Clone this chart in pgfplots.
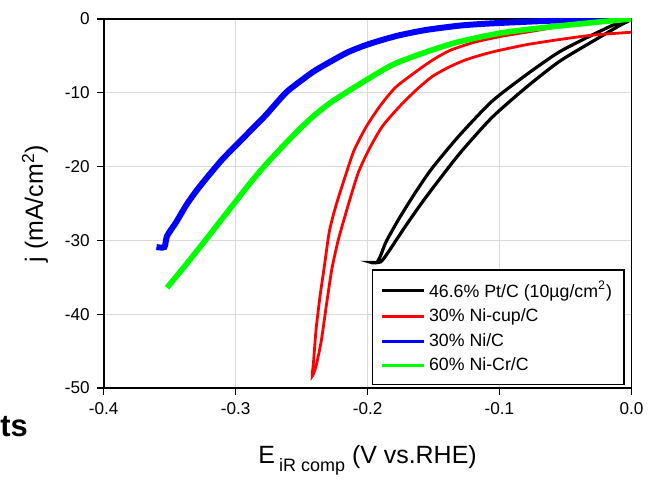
\documentclass[border=0pt]{standalone}
\usepackage{pgfplots}
\pgfplotsset{compat=1.18}
\usepackage{fontspec}
\setmainfont{Liberation Sans}
\begin{document}
\begin{tikzpicture}
\begin{axis}[
  scale only axis, width=264.5pt, height=185pt,
  xmin=-0.4, xmax=0, ymin=-50, ymax=0,
  xtick={-0.4,-0.3,-0.2,-0.1,0}, xticklabels={-0.4,-0.3,-0.2,-0.1,0.0},
  ytick={-50,-40,-30,-20,-10,0},
  /pgf/number format/assume math mode=true,
  grid=major, grid style={black!15, line width=0.6pt},
  tick align=outside, tick pos=left, major tick length=3.5pt,
  axis line style={line width=0.8pt},
  tick style={black, line width=0.6pt},
  ticklabel style={font=\fontsize{8.6}{10}\selectfont},
  xlabel={E\,\raisebox{-0.6ex}{\fontsize{9}{10}\selectfont iR comp} (V vs.RHE)},
  ylabel={j (mA/cm\textsuperscript{2})},
  label style={font=\fontsize{12.5}{14}\selectfont},
  xlabel style={at={(axis description cs:0.5,0)}, anchor=base, yshift=-38pt},
  ylabel style={at={(axis description cs:-0.1153,0.5)}, anchor=base},
  legend cell align=left,
  legend style={at={(rel axis cs:0.987,0.008)}, anchor=south east, draw=black, line width=0.6pt,
    font=\fontsize{8.9}{10}\selectfont, row sep=0.3pt, inner xsep=4pt, inner ysep=3.5pt},
  legend image code/.code={\draw[#1, line width=1.5pt] (0pt,0pt) -- (21pt,0pt);},
]
\addplot[black, line width=1.6pt, smooth, tension=0.4] coordinates {
(-0.003,-0.1) (-0.010,-0.5) (-0.030,-2.2) (-0.055,-4.5) (-0.080,-7.6) (-0.106,-11.2)
(-0.131,-15.9) (-0.151,-20.2) (-0.163,-23.3) (-0.176,-27.0) (-0.186,-30.2) (-0.190,-32.0) (-0.193,-33.0)
(-0.197,-33.0) (-0.190,-32.9) (-0.184,-31.5) (-0.171,-28.0) (-0.156,-24.2) (-0.131,-18.4)
(-0.106,-13.4) (-0.080,-9.3) (-0.055,-5.8) (-0.030,-3.1) (-0.008,-0.8) (-0.002,-0.3)
};
\addlegendentry{46.6\% Pt/C (10µg/cm\textsuperscript{2})}
\addplot[red, line width=1.4pt, smooth, tension=0.4] coordinates {
(0.000,-1.8) (-0.030,-2.2) (-0.055,-2.8) (-0.080,-3.5) (-0.106,-4.5) (-0.125,-5.5) (-0.138,-6.5)
(-0.151,-7.8) (-0.163,-9.6) (-0.176,-11.9) (-0.189,-14.6) (-0.199,-17.7) (-0.207,-20.8) (-0.214,-24.8)
(-0.222,-29.8) (-0.227,-33.8) (-0.231,-38.5) (-0.235,-43.5) (-0.239,-47.0) (-0.242,-48.4)
(-0.241,-46.5) (-0.239,-42.0) (-0.236,-37.5) (-0.233,-33.8) (-0.229,-28.8) (-0.224,-25.3)
(-0.216,-20.8) (-0.210,-17.7) (-0.201,-14.6) (-0.191,-11.9) (-0.179,-9.3) (-0.163,-7.1) (-0.151,-5.6)
(-0.138,-4.3) (-0.120,-3.2) (-0.100,-2.4) (-0.080,-1.8) (-0.042,-0.7) (-0.010,-0.2) (0.000,0.0)
};
\addlegendentry{30\% Ni-cup/C}
\addplot[blue, line width=3pt, smooth, tension=0.4] coordinates {
(-0.360,-30.9) (-0.354,-30.9) (-0.352,-29.4) (-0.345,-27.5) (-0.337,-25.1) (-0.329,-23.1) (-0.320,-21.1)
(-0.310,-19.0) (-0.299,-17.0) (-0.288,-15.0) (-0.277,-13.0) (-0.262,-10.0) (-0.250,-8.3) (-0.239,-6.9) (-0.216,-4.6) (-0.199,-3.4)
(-0.178,-2.3) (-0.156,-1.5) (-0.130,-0.9) (-0.106,-0.6) (-0.055,-0.2) (0.000,0.0)
};
\addlegendentry{30\% Ni/C}
\addplot[green, line width=2.8pt, smooth, tension=0.4] coordinates {
(-0.352,-36.4) (-0.340,-33.8) (-0.327,-30.9) (-0.313,-27.7) (-0.299,-24.5) (-0.288,-22.0) (-0.277,-19.7)
(-0.264,-17.2) (-0.252,-15.0) (-0.240,-13.0) (-0.227,-11.2) (-0.204,-8.6) (-0.181,-6.2) (-0.156,-4.5) (-0.131,-3.1)
(-0.099,-1.9) (-0.068,-1.2) (-0.030,-0.5) (0.000,0.0)
};
\addlegendentry{60\% Ni-Cr/C}
\end{axis}
\node[anchor=base west, font=\fontsize{15.5}{16}\selectfont\bfseries, inner sep=0pt]
  at ([xshift=-52pt, yshift=-24.5pt]current axis.south west) {ts};
\path ([xshift=-52pt,yshift=-42.5pt]current axis.south west) rectangle ([xshift=273pt,yshift=194.5pt]current axis.south west);
\end{tikzpicture}
\end{document}
